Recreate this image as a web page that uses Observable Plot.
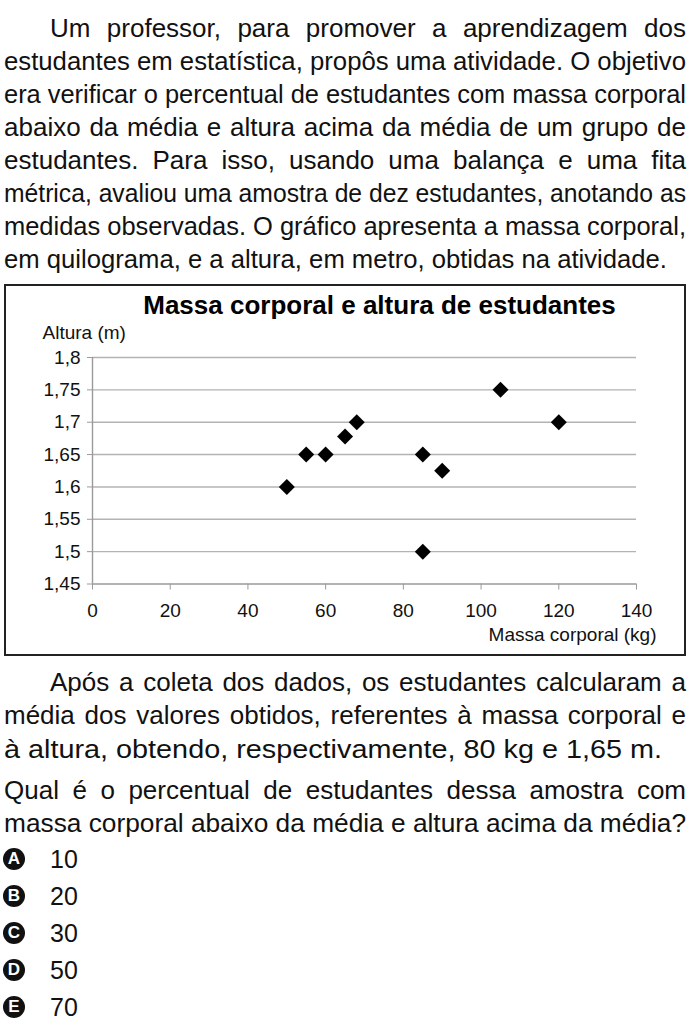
<!DOCTYPE html>
<html>
<head>
<meta charset="utf-8">
<script src="https://cdn.jsdelivr.net/npm/d3@7"></script>
<script src="https://cdn.jsdelivr.net/npm/@observablehq/plot@0.6"></script>
<style>
  html, body { margin: 0; padding: 0; background: #fff; }
  body { width: 692px; height: 1034px; position: relative; overflow: hidden;
         font-family: "Liberation Sans", Arial, sans-serif; color: #111; }
  .line { position: absolute; height: 33px; line-height: 33px; font-size: 26px; white-space: nowrap; }
  .line span { display: inline-block; white-space: pre; transform-origin: 0 50%; }
  #box { position: absolute; left: 4px; top: 284px; width: 682px; height: 372px;
         border: 2px solid #222; box-sizing: border-box; pointer-events: none; }
  #chart { position: absolute; left: 0; top: 284px; }
  .opt { position: absolute; left: 0; height: 30px; }
  .badge { position: absolute; left: 3px; top: 4px; width: 22px; height: 22px; border-radius: 50%;
           background: #111; color: #fff; font: bold 17px "Liberation Sans", Arial, sans-serif;
           text-align: center; line-height: 22px; }
  .num { position: absolute; left: 50px; top: 0; font-size: 25px; line-height: 30px; }
</style>
</head>
<body>
<div id="text"></div>
<div id="chart"></div>
<div id="box"></div>
<div id="opts"></div>
<script>
// ---- chart data ----
const massa = [50, 55, 60, 65, 68, 85, 90, 85, 105, 120];
const altura = [1.6, 1.65, 1.65, 1.678, 1.7, 1.65, 1.625, 1.5, 1.75, 1.7];
const xTicks = [0, 20, 40, 60, 80, 100, 120, 140];
const yTicks = [1.45, 1.5, 1.55, 1.6, 1.65, 1.7, 1.75, 1.8];
const chartTitle = "Massa corporal e altura de estudantes";
const yLabel = "Altura (m)";
const xLabel = "Massa corporal (kg)";

// ---- text content ----
const para1 = [
  "Um professor, para promover a aprendizagem dos",
  "estudantes em estatística, propôs uma atividade. O objetivo",
  "era verificar o percentual de estudantes com massa corporal",
  "abaixo da média e altura acima da média de um grupo de",
  "estudantes. Para isso, usando uma balança e uma fita",
  "métrica, avaliou uma amostra de dez estudantes, anotando as",
  "medidas observadas. O gráfico apresenta a massa corporal,",
  "em quilograma, e a altura, em metro, obtidas na atividade."
];
const para2 = [
  "Após a coleta dos dados, os estudantes calcularam a",
  "média dos valores obtidos, referentes à massa corporal e",
  "à altura, obtendo, respectivamente, 80 kg e 1,65 m."
];
const para3 = [
  "Qual é o percentual de estudantes dessa amostra com",
  "massa corporal abaixo da média e altura acima da média?"
];
const optLetters = ["A", "B", "C", "D", "E"];
const optValues = ["10", "20", "30", "50", "70"];

// ---- layout of text ----
const textDiv = document.getElementById("text");
function addLines(lines, firstCenter, step, lastEnd, indent) {
  lines.forEach((t, i) => {
    const d = document.createElement("div");
    d.className = "line";
    const left = (i === 0 && indent) ? 50 : 4;
    const isLast = i === lines.length - 1;
    const right = isLast ? lastEnd : 686;
    d.style.left = left + "px";
    d.style.top = (firstCenter + step * i - 16.5) + "px";
    const s = document.createElement("span");
    s.textContent = t;
    d.appendChild(s);
    textDiv.appendChild(d);
    const target = right - left;
    const w = s.getBoundingClientRect().width;
    const n = (t.match(/ /g) || []).length;
    if (!isLast && w < target && n > 0) {
      s.style.wordSpacing = ((target - w) / n) + "px";
    } else {
      s.style.transform = "scaleX(" + (target / w) + ")";
    }
  });
}
addLines(para1, 28, 33, 667, true);
addLines(para2, 682, 33.5, 662, true);
addLines(para3, 790, 33, 686, false);

const opts = document.getElementById("opts");
optLetters.forEach((L, i) => {
  const o = document.createElement("div");
  o.className = "opt";
  o.style.top = (859 + 37 * i - 15) + "px";
  o.innerHTML = `<div class="badge">${L}</div><div class="num">${optValues[i]}</div>`;
  opts.appendChild(o);
});

// ---- chart ----
const data = massa.map((m, i) => ({massa: m, altura: altura[i]}));
const diamond = {
  draw(context, size) {
    const h = Math.sqrt(size / Math.PI);
    context.moveTo(0, -h);
    context.lineTo(h, 0);
    context.lineTo(0, h);
    context.lineTo(-h, 0);
    context.closePath();
  }
};
const fmt = d => String(d).replace(".", ",");
const chart = Plot.plot({
  width: 692,
  height: 372,
  marginLeft: 92,
  marginRight: 56,
  marginTop: 73,
  marginBottom: 72.5,
  style: {fontFamily: "'Liberation Sans', Arial, sans-serif", fontSize: "19px", color: "#111", background: "transparent"},
  x: {domain: [0, 140]},
  y: {domain: [1.45, 1.8]},
  marks: [
    Plot.ruleY(yTicks.slice(1), {stroke: "#b3b3b3", strokeWidth: 1.4}),
    Plot.ruleY([yTicks[0]], {stroke: "#9a9a9a", strokeWidth: 1.4}),
    Plot.ruleX([xTicks[0]], {stroke: "#9a9a9a", strokeWidth: 1.4}),
    Plot.axisX({ticks: xTicks, tickSize: 6, tickPadding: 13, stroke: "#9a9a9a", fill: "#111", fontSize: 19, label: null}),
    Plot.axisY({ticks: yTicks, tickSize: 5, tickPadding: 7, tickFormat: fmt, stroke: "#9a9a9a", fill: "#111", fontSize: 19, label: null}),
    Plot.dot(data, {x: "massa", y: "altura", symbol: diamond, r: 8, fill: "#000", stroke: "none"}),
    Plot.text([chartTitle], {frameAnchor: "top", text: d => d, dx: 15, dy: -44, lineAnchor: "bottom", textAnchor: "middle", fontSize: 26, fontWeight: "bold", fill: "#000"}),
    Plot.text([yLabel], {frameAnchor: "top-left", text: d => d, dx: -50, dy: -19, lineAnchor: "bottom", textAnchor: "start", fontSize: 19, fill: "#111"}),
    Plot.text([xLabel], {frameAnchor: "bottom-right", text: d => d, dx: 20, dy: 57, lineAnchor: "bottom", textAnchor: "end", fontSize: 19, fill: "#111"})
  ]
});
document.getElementById("chart").appendChild(chart);
</script>
</body>
</html>
